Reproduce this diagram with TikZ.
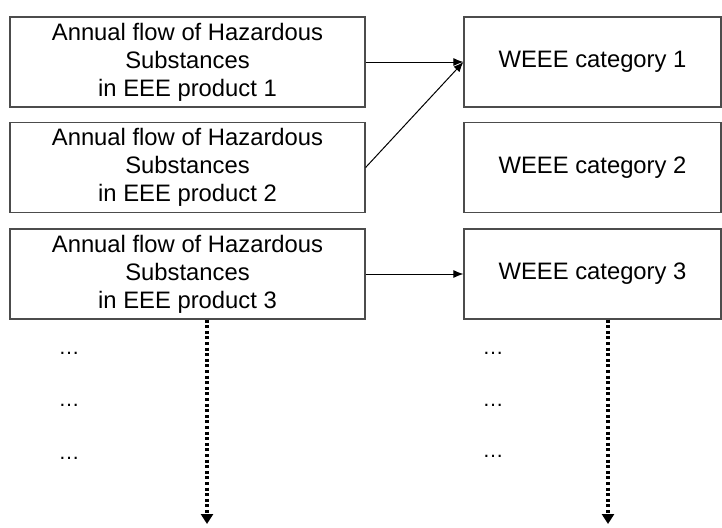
\documentclass[tikz,border=0pt]{standalone}
\usepackage{fontspec}
\setmainfont{Liberation Sans}
\usetikzlibrary{arrows.meta}
\begin{document}
\begin{tikzpicture}[x=1pt,y=-1pt,
  box/.style={draw=black!70, line width=1.2pt, rectangle, inner sep=0pt, align=center,
    font=\fontsize{23.8}{28}\selectfont, text=black},
  lbox/.style={box, minimum width=355pt, minimum height=90pt},
  rbox/.style={box, minimum width=257pt, minimum height=90pt},
  conn/.style={draw=black, line width=1pt, -{Latex[length=10pt,width=8pt]}},
  dotconn/.style={draw=black, line width=3.2pt, dash pattern=on 3pt off 2.6pt,
    -{Triangle[length=10pt,width=12pt]}},
  dots/.style={font=\fontsize{21}{24}\selectfont, inner sep=0pt}]
\useasboundingbox (0,0) rectangle (722,527);
\node[lbox] (l1) at (187.5,62) {Annual flow of Hazardous\\Substances\\in EEE product 1};
\node[lbox] (l2) at (187.5,167.5) {Annual flow of Hazardous\\Substances\\in EEE product 2};
\node[lbox] (l3) at (187.5,274) {Annual flow of Hazardous\\Substances\\in EEE product 3};
\node[rbox] (r1) at (592.5,62) {WEEE category 1};
\node[rbox] (r2) at (592.5,167.5) {WEEE category 2};
\node[rbox] (r3) at (592.5,274) {WEEE category 3};
\draw[conn] (l1.east) -- (r1.west);
\draw[conn] (l2.east) -- (r1.west);
\draw[conn] (l3.east) -- (r3.west);
\coordinate (d1) at (207,524);
\coordinate (d2) at (608,524);
\draw[dotconn] (d1 |- l3.south) -- (d1);
\draw[dotconn] (d2 |- r3.south) -- (d2);
\node[dots] (a1) at (69,353) {\dots};
\node[dots] (a2) at (69,405) {\dots};
\node[dots] (a3) at (69,458) {\dots};
\node[dots] (b1) at (493,353) {\dots};
\node[dots] (b2) at (493,405) {\dots};
\node[dots] (b3) at (493,456) {\dots};
\end{tikzpicture}
\end{document}
